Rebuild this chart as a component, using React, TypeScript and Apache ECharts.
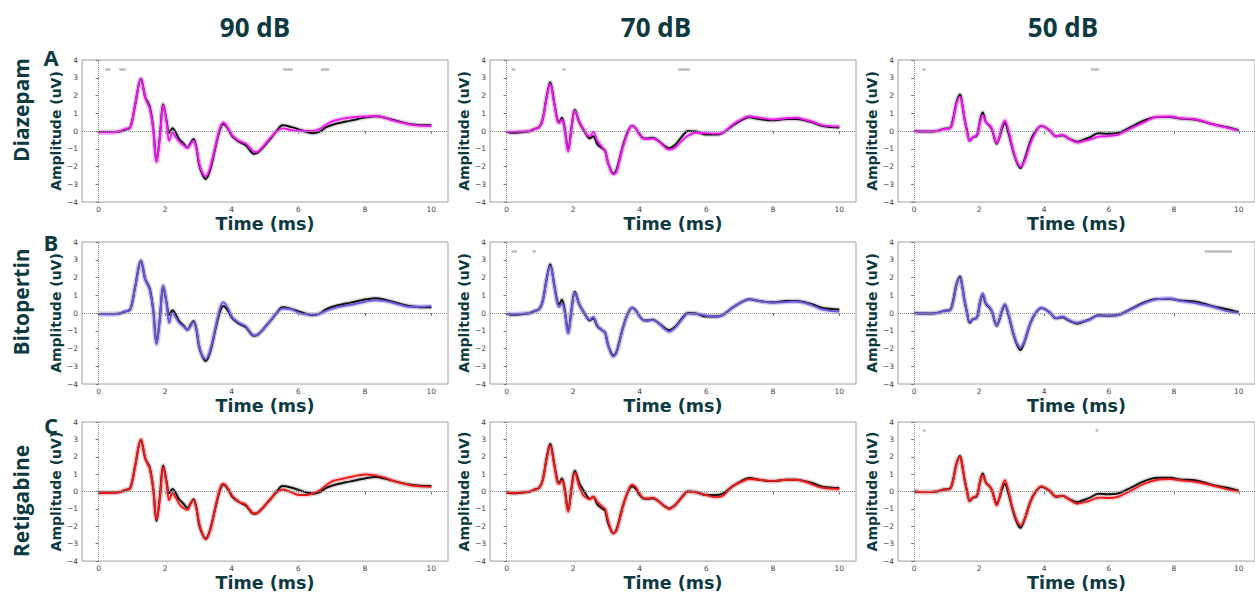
import { useEffect, useRef } from 'react';
import * as echarts from 'echarts';

// ---------- data ----------
const levels = ['90 dB', '70 dB', '50 dB'];
const drugs = ['Diazepam', 'Bitopertin', 'Retigabine'];
const letters = ['A', 'B', 'C'];
const xTicks = [0, 2, 4, 6, 8, 10];
const sigLevel = 3.5;

const t90 = [0, 0.3, 0.6, 0.8, 0.95, 1.1, 1.27, 1.4, 1.47, 1.54, 1.64, 1.74, 1.84, 1.94, 2.04, 2.12, 2.22, 2.32, 2.42, 2.55, 2.67, 2.76, 2.85, 2.94, 3.02, 3.12, 3.22, 3.35, 3.52, 3.65, 3.75, 3.88, 4.02, 4.22, 4.42, 4.55, 4.65, 4.75, 4.88, 5.02, 5.18, 5.33, 5.53, 5.8, 6.03, 6.25, 6.43, 6.63, 6.83, 7.03, 7.3, 7.53, 7.8, 8.03, 8.33, 8.6, 8.83, 9.1, 9.33, 9.65, 10];
const control90 = [-0.05, -0.06, -0.04, 0.08, 0.2, 1.5, 2.95, 1.9, 1.65, 1.35, 0.2, -1.7, -0.3, 1.5, 0.6, -0.1, 0.15, -0.1, -0.45, -0.7, -0.95, -0.7, -0.45, -0.95, -1.9, -2.45, -2.7, -2.2, -0.85, 0.1, 0.4, 0.15, -0.3, -0.6, -0.8, -1.1, -1.28, -1.25, -1.05, -0.75, -0.4, -0.05, 0.32, 0.22, 0.08, -0.05, -0.12, -0.05, 0.2, 0.35, 0.48, 0.57, 0.68, 0.77, 0.83, 0.75, 0.63, 0.5, 0.4, 0.33, 0.32];
const diazepam90 = [-0.08, -0.08, -0.03, 0.12, 0.2, 1.5, 2.95, 1.9, 1.55, 1.25, 0.1, -1.75, -0.4, 1.45, 0.5, -0.55, -0.1, -0.35, -0.6, -0.8, -0.95, -0.75, -0.55, -1.0, -1.8, -2.35, -2.55, -2.05, -0.75, 0.2, 0.48, 0.2, -0.25, -0.55, -0.7, -0.95, -1.15, -1.18, -1.0, -0.7, -0.35, -0.05, 0.15, 0.05, 0.02, 0.0, 0.0, 0.1, 0.35, 0.55, 0.68, 0.75, 0.8, 0.82, 0.85, 0.75, 0.6, 0.47, 0.37, 0.3, 0.28];
const bitopertin90 = [-0.06, -0.07, -0.04, 0.1, 0.2, 1.5, 2.95, 1.9, 1.6, 1.3, 0.15, -1.75, -0.35, 1.55, 0.55, -0.55, 0.0, -0.25, -0.55, -0.75, -0.95, -0.75, -0.5, -0.95, -1.85, -2.4, -2.6, -2.1, -0.75, 0.3, 0.6, 0.3, -0.25, -0.55, -0.75, -1.05, -1.25, -1.25, -1.05, -0.75, -0.4, -0.05, 0.25, 0.2, 0.0, -0.08, -0.1, -0.05, 0.12, 0.25, 0.38, 0.45, 0.55, 0.65, 0.72, 0.68, 0.58, 0.45, 0.35, 0.35, 0.4];
const retigabine90 = [-0.08, -0.08, -0.05, 0.1, 0.2, 1.5, 3.0, 1.95, 1.6, 1.3, 0.2, -1.6, -0.4, 1.4, 0.5, -0.5, -0.1, -0.35, -0.7, -0.95, -1.05, -0.7, -0.5, -1.0, -1.8, -2.45, -2.75, -2.25, -0.8, 0.2, 0.45, 0.2, -0.25, -0.6, -0.75, -1.05, -1.25, -1.25, -1.05, -0.75, -0.4, -0.08, 0.12, -0.05, -0.2, -0.2, -0.1, 0.05, 0.35, 0.6, 0.72, 0.82, 0.93, 0.98, 0.93, 0.8, 0.63, 0.48, 0.38, 0.3, 0.27];

const t70 = [0, 0.2, 0.5, 0.7, 0.85, 0.97, 1.08, 1.2, 1.31, 1.43, 1.53, 1.58, 1.66, 1.75, 1.85, 1.95, 2.05, 2.18, 2.3, 2.43, 2.5, 2.6, 2.73, 2.89, 2.96, 3.04, 3.12, 3.2, 3.3, 3.49, 3.64, 3.77, 3.88, 3.99, 4.14, 4.25, 4.39, 4.59, 4.75, 4.89, 5.05, 5.19, 5.32, 5.44, 5.69, 5.99, 6.29, 6.49, 6.79, 7.05, 7.29, 7.6, 8.0, 8.4, 8.7, 9.0, 9.2, 9.5, 10];
const control70 = [-0.05, -0.1, -0.05, 0.0, 0.12, 0.2, 0.64, 1.9, 2.75, 1.6, 0.6, 0.5, 0.75, 0.1, -1.1, 0.2, 1.2, 0.5, 0.1, -0.3, -0.42, -0.3, -0.75, -1.0, -1.1, -1.75, -2.15, -2.4, -2.2, -0.86, -0.05, 0.3, 0.15, -0.17, -0.42, -0.42, -0.38, -0.6, -0.85, -0.97, -0.8, -0.5, -0.2, 0.0, -0.03, -0.2, -0.2, -0.12, 0.3, 0.6, 0.78, 0.67, 0.6, 0.68, 0.68, 0.58, 0.48, 0.28, 0.2];
const diazepam70 = [-0.05, -0.05, -0.03, 0.0, 0.12, 0.2, 0.6, 1.85, 2.65, 1.55, 0.55, 0.45, 0.65, 0.0, -1.15, 0.15, 1.15, 0.55, 0.15, -0.25, -0.3, -0.05, -0.55, -0.95, -1.1, -1.7, -2.2, -2.43, -2.3, -0.95, -0.1, 0.3, 0.15, -0.2, -0.45, -0.45, -0.42, -0.62, -0.9, -1.05, -0.95, -0.7, -0.45, -0.28, -0.1, -0.12, -0.15, -0.1, 0.35, 0.65, 0.83, 0.75, 0.65, 0.72, 0.75, 0.62, 0.52, 0.32, 0.25];
const bitopertin70 = [-0.05, -0.07, -0.04, 0.0, 0.12, 0.2, 0.62, 1.85, 2.65, 1.55, 0.5, 0.35, 0.55, 0.0, -1.15, 0.15, 1.15, 0.5, 0.1, -0.3, -0.38, -0.22, -0.7, -1.0, -1.1, -1.75, -2.2, -2.45, -2.25, -0.9, -0.05, 0.3, 0.15, -0.18, -0.42, -0.42, -0.4, -0.62, -0.9, -1.05, -0.85, -0.55, -0.25, -0.03, -0.05, -0.15, -0.2, -0.12, 0.3, 0.6, 0.78, 0.67, 0.58, 0.62, 0.65, 0.55, 0.42, 0.2, 0.08];
const retigabine70 = [-0.05, -0.08, -0.05, 0.0, 0.12, 0.2, 0.62, 1.85, 2.65, 1.55, 0.5, 0.45, 0.65, 0.0, -1.15, 0.2, 1.1, 0.3, -0.2, -0.4, -0.45, -0.3, -0.6, -0.9, -1.0, -1.6, -2.1, -2.4, -2.25, -0.9, 0.0, 0.4, 0.25, -0.1, -0.4, -0.4, -0.35, -0.6, -0.85, -1.0, -0.8, -0.5, -0.2, 0.0, -0.05, -0.2, -0.32, -0.25, 0.3, 0.55, 0.72, 0.68, 0.6, 0.68, 0.68, 0.55, 0.4, 0.22, 0.15];

const t50 = [0, 0.3, 0.7, 0.9, 1.1, 1.2, 1.3, 1.41, 1.48, 1.55, 1.63, 1.71, 1.81, 1.91, 1.96, 2.03, 2.11, 2.21, 2.34, 2.41, 2.47, 2.54, 2.62, 2.7, 2.79, 2.91, 3.0, 3.07, 3.17, 3.27, 3.4, 3.57, 3.72, 3.92, 4.17, 4.37, 4.57, 4.77, 5.03, 5.2, 5.38, 5.68, 5.98, 6.28, 6.68, 7.09, 7.49, 7.89, 8.19, 8.69, 9.2, 9.6, 10];
const control50 = [0.0, -0.03, 0.0, 0.12, 0.17, 0.7, 1.6, 2.05, 1.5, 0.7, 0.0, -0.55, -0.35, -0.3, -0.1, 0.6, 1.04, 0.5, 0.26, 0.0, -0.4, -0.72, -0.4, 0.1, 0.45, -0.15, -0.8, -1.28, -1.8, -2.09, -1.6, -0.62, -0.06, 0.28, 0.04, -0.3, -0.24, -0.43, -0.6, -0.5, -0.38, -0.13, -0.15, -0.11, 0.23, 0.6, 0.79, 0.79, 0.7, 0.64, 0.38, 0.23, 0.05];
const diazepam50 = [0.0, -0.03, 0.0, 0.1, 0.15, 0.6, 1.5, 1.95, 1.5, 0.7, -0.1, -0.55, -0.35, -0.25, -0.1, 0.5, 0.9, 0.5, 0.3, 0.05, -0.35, -0.68, -0.35, 0.25, 0.6, 0.0, -0.7, -1.2, -1.75, -2.0, -1.7, -0.75, -0.15, 0.3, 0.05, -0.3, -0.22, -0.45, -0.65, -0.58, -0.5, -0.32, -0.28, -0.2, 0.15, 0.5, 0.8, 0.82, 0.72, 0.65, 0.38, 0.2, 0.02];
const bitopertin50 = [0.0, -0.03, 0.0, 0.1, 0.15, 0.65, 1.55, 2.0, 1.5, 0.7, 0.0, -0.5, -0.35, -0.3, -0.1, 0.65, 1.1, 0.55, 0.3, 0.02, -0.38, -0.7, -0.38, 0.15, 0.5, -0.1, -0.75, -1.22, -1.72, -1.95, -1.55, -0.6, -0.05, 0.3, 0.05, -0.28, -0.2, -0.4, -0.55, -0.47, -0.4, -0.15, -0.15, -0.12, 0.2, 0.55, 0.78, 0.82, 0.68, 0.55, 0.35, 0.12, 0.02];
const retigabine50 = [0.0, -0.03, 0.0, 0.1, 0.15, 0.65, 1.55, 2.0, 1.5, 0.7, 0.0, -0.55, -0.35, -0.25, -0.1, 0.55, 0.95, 0.5, 0.28, 0.0, -0.45, -0.8, -0.4, 0.25, 0.65, 0.0, -0.75, -1.2, -1.7, -1.95, -1.6, -0.65, -0.1, 0.3, 0.05, -0.28, -0.25, -0.45, -0.7, -0.62, -0.55, -0.35, -0.37, -0.3, 0.05, 0.45, 0.68, 0.72, 0.65, 0.55, 0.35, 0.15, 0.0];

// significance intervals [start, end] (ms)
const sigDiazepam90 = [[0.2, 0.35], [0.62, 0.82], [5.55, 5.83], [6.68, 6.93]];
const sigDiazepam70 = [[0.16, 0.26], [1.68, 1.78], [5.16, 5.5]];
const sigDiazepam50 = [[0.25, 0.35], [5.45, 5.69]];
const sigBitopertin90: number[][] = [];
const sigBitopertin70 = [[0.16, 0.31], [0.78, 0.88]];
const sigBitopertin50 = [[8.95, 9.79]];
const sigRetigabine90: number[][] = [];
const sigRetigabine70: number[][] = [];
const sigRetigabine50 = [[0.27, 0.35], [5.59, 5.67]];

const times = [t90, t70, t50];
const controls = [control90, control70, control50];
const drugValues = [
  [diazepam90, diazepam70, diazepam50],
  [bitopertin90, bitopertin70, bitopertin50],
  [retigabine90, retigabine70, retigabine50],
];
const sigs = [
  [sigDiazepam90, sigDiazepam70, sigDiazepam50],
  [sigBitopertin90, sigBitopertin70, sigBitopertin50],
  [sigRetigabine90, sigRetigabine70, sigRetigabine50],
];

// ---------- styles ----------
const drugColors = ['#ee18ee', '#6b55d8', '#ec1a1a'];
const drugBandColors = ['#f4a6f4', '#bdb2ef', '#f5a3a3'];
const textColor = '#0c3a40';
const colLefts = [82, 490, 898];
const rowTops = [60, 242, 422];
const plotW = 366;
const plotH = 142;

function buildOption() {
  const grid: any[] = [];
  const xAxis: any[] = [];
  const yAxis: any[] = [];
  const series: any[] = [];
  const graphic: any[] = [];

  for (let r = 0; r < 3; r++) {
    for (let c = 0; c < 3; c++) {
      const i = r * 3 + c;
      grid.push({
        left: colLefts[c], top: rowTops[r], width: plotW, height: plotH,
        show: true, borderColor: '#a0a0a0', borderWidth: 1, backgroundColor: '#fff',
      });
      xAxis.push({
        type: 'value', gridIndex: i, min: -0.5, max: 10.5,
        name: 'Time (ms)', nameLocation: 'middle', nameGap: 10,
        nameTextStyle: { fontFamily: 'DejaVu Sans', fontWeight: 'bold', fontSize: 17.5, lineHeight: 20, color: textColor },
        axisLine: { show: false },
        axisTick: { show: true, customValues: xTicks, length: 3, lineStyle: { color: '#777' } },
        axisLabel: { customValues: xTicks, fontSize: 7.5, lineHeight: 8, color: '#444', margin: 3, fontFamily: 'DejaVu Sans' },
        splitLine: { show: false },
      });
      yAxis.push({
        type: 'value', gridIndex: i, min: -4, max: 4, interval: 1,
        name: 'Amplitude (uV)', nameLocation: 'middle', nameGap: 18,
        nameTextStyle: { fontFamily: 'DejaVu Sans', fontWeight: 'bold', fontSize: 14, color: textColor },
        axisLine: { show: false },
        axisTick: { show: true, length: 3, lineStyle: { color: '#777' } },
        axisLabel: {
          fontSize: 7.5, color: '#444', margin: 4, fontFamily: 'DejaVu Sans',
          formatter: (v: number) => (v < 0 ? '\u2212' + Math.abs(v) : String(v)),
        },
        splitLine: { show: false },
      });

      const t = times[c];
      const pairs = (ys: number[]) => t.map((x, k) => [x, ys[k]]);
      const ctrl = pairs(controls[c]);
      const drug = pairs(drugValues[r][c]);
      const common = {
        type: 'line', xAxisIndex: i, yAxisIndex: i, showSymbol: false, symbol: 'none',
        smooth: 0.35, silent: true,
      };
      const refStyle = { type: 'dotted', color: '#8a8a8a', width: 1 };
      const sigStyle = { type: 'solid', color: '#bcbcbc', width: 2.5 };
      const markData: any[] = [
        { yAxis: 0, lineStyle: refStyle },
        { xAxis: 0, lineStyle: refStyle },
      ];
      sigs[r][c].forEach(([a, b]) => {
        markData.push([
          { coord: [a, sigLevel], lineStyle: sigStyle },
          { coord: [b, sigLevel] },
        ]);
      });

      series.push({
        ...common, data: ctrl, z: 1,
        lineStyle: { color: '#c8c8c8', width: 5, opacity: 0.65 },
        markLine: {
          silent: true, symbol: ['none', 'none'], label: { show: false },
          animation: false, data: markData,
        },
      });
      series.push({ ...common, data: drug, z: 2, lineStyle: { color: drugBandColors[r], width: 5, opacity: 0.5 } });
      series.push({ ...common, data: ctrl, z: 3, lineStyle: { color: '#111', width: 2 } });
      series.push({ ...common, data: drug, z: 4, lineStyle: { color: drugColors[r], width: 1.9 } });
    }
  }

  const titleX = [255, 656, 1063];
  levels.forEach((lv, c) => {
    graphic.push({
      type: 'text', x: titleX[c], y: 27,
      style: {
        text: lv, fill: textColor, font: 'bold 26px "Open Sans"',
        align: 'center', verticalAlign: 'middle', textAlign: 'center', textVerticalAlign: 'middle',
      },
    });
  });
  const rowLabelY = [110, 302, 501];
  drugs.forEach((d, r) => {
    graphic.push({
      type: 'text', x: 21, y: rowLabelY[r], rotation: Math.PI / 2,
      style: {
        text: d, fill: textColor, font: 'bold 21px "Open Sans"',
        align: 'center', verticalAlign: 'middle', textAlign: 'center', textVerticalAlign: 'middle',
      },
    });
  });
  const letterY = [57, 242, 425];
  letters.forEach((l, r) => {
    graphic.push({
      type: 'text', x: 51, y: letterY[r],
      style: {
        text: l, fill: textColor, font: 'bold 22px "Open Sans"',
        align: 'center', verticalAlign: 'middle', textAlign: 'center', textVerticalAlign: 'middle',
      },
    });
  });

  return {
    animation: false,
    backgroundColor: '#ffffff',
    grid, xAxis, yAxis, series, graphic,
  };
}

export default function App() {
  const ref = useRef<HTMLDivElement>(null);
  useEffect(() => {
    if (!ref.current) return;
    const chart = echarts.init(ref.current, undefined, { renderer: 'svg' });
    chart.setOption(buildOption() as any);
    return () => chart.dispose();
  }, []);
  return (
    <div
      ref={ref}
      style={{ position: 'absolute', left: 0, top: 0, width: 1255, height: 594, background: '#fff' }}
    />
  );
}
